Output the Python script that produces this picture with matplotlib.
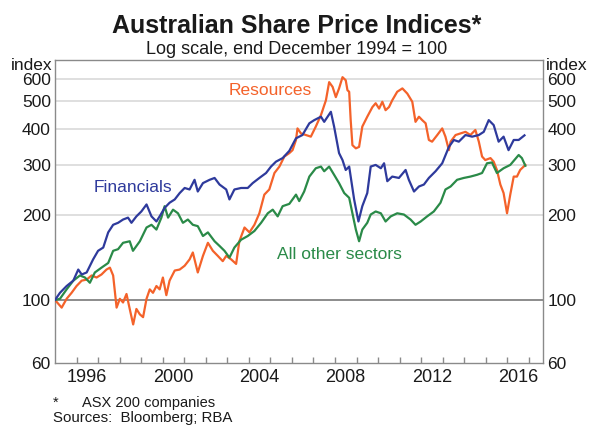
import numpy as np
import matplotlib.pyplot as plt
from matplotlib.ticker import FixedLocator, NullFormatter

plt.rcParams['font.family'] = ['Liberation Sans', 'DejaVu Sans']

# values (year, index level)
fin_year = [1995.0, 1995.23, 1995.54, 1995.85, 1996.08, 1996.24, 1996.47, 1996.77, 1997.0, 1997.24,
            1997.47, 1997.7, 1997.93, 1998.16, 1998.39, 1998.55, 1998.78, 1999.01, 1999.25, 1999.48,
            1999.71, 1999.86, 2000.09, 2000.32, 2000.56, 2000.79, 2001.02, 2001.25, 2001.48, 2001.63,
            2001.87, 2002.18, 2002.41, 2002.64, 2002.95, 2003.1, 2003.33, 2003.64, 2003.95, 2004.18,
            2004.49, 2004.8, 2005.03, 2005.26, 2005.57, 2005.88, 2006.19, 2006.49, 2006.81, 2007.04,
            2007.35, 2007.5, 2007.81, 2007.96, 2008.19, 2008.35, 2008.5, 2008.66, 2008.89, 2009.09,
            2009.27, 2009.5, 2009.66, 2009.89, 2010.13, 2010.28, 2010.43, 2010.66, 2010.97, 2011.28,
            2011.43, 2011.67, 2011.9, 2012.13, 2012.36, 2012.67, 2012.98, 2013.29, 2013.52, 2013.75,
            2014.06, 2014.37, 2014.68, 2014.91, 2015.14, 2015.37, 2015.6, 2015.83, 2016.06, 2016.3,
            2016.53, 2016.8]
fin_val = [100, 106, 112, 117, 128, 123, 125, 139, 149, 153,
           173, 184, 187, 192, 195, 187, 197, 205, 217, 197,
           189, 197, 211, 220, 226, 238, 248, 245, 265, 241,
           258, 265, 269, 255, 245, 226, 245, 248, 248, 258,
           269, 280, 295, 307, 316, 335, 371, 381, 419, 430,
           442, 424, 460, 408, 329, 311, 287, 295, 226, 189,
           214, 238, 295, 299, 291, 303, 262, 272, 269, 287,
           265, 241, 251, 255, 269, 284, 303, 346, 366, 361,
           381, 376, 381, 391, 430, 413, 361, 376, 337, 366,
           366, 380]

oth_year = [1995.0, 1995.23, 1995.54, 1995.85, 1996.16, 1996.39, 1996.62, 1996.85, 1997.16, 1997.47,
            1997.7, 1997.93, 1998.16, 1998.47, 1998.62, 1998.94, 1999.25, 1999.48, 1999.71, 1999.94,
            2000.09, 2000.25, 2000.48, 2000.71, 2000.94, 2001.17, 2001.4, 2001.63, 2001.87, 2002.1,
            2002.41, 2002.64, 2002.87, 2003.1, 2003.33, 2003.64, 2003.95, 2004.26, 2004.57, 2004.88,
            2005.11, 2005.34, 2005.57, 2005.88, 2006.19, 2006.34, 2006.57, 2006.81, 2007.11, 2007.35,
            2007.5, 2007.73, 2007.96, 2008.19, 2008.43, 2008.66, 2008.81, 2008.97, 2009.12, 2009.27,
            2009.5, 2009.66, 2009.89, 2010.13, 2010.35, 2010.59, 2010.89, 2011.2, 2011.51, 2011.74,
            2011.98, 2012.28, 2012.59, 2012.9, 2013.13, 2013.37, 2013.67, 2013.98, 2014.29, 2014.6,
            2014.83, 2015.06, 2015.29, 2015.52, 2015.83, 2016.14, 2016.53, 2016.68, 2016.84]
oth_val = [100, 101, 109, 117, 122, 120, 115, 125, 130, 135,
           149, 151, 159, 161, 149, 161, 180, 184, 177, 195,
           214, 195, 208, 202, 187, 192, 184, 182, 168, 173,
           161, 155, 149, 141, 153, 163, 168, 175, 187, 202,
           208, 197, 214, 218, 235, 223, 241, 272, 291, 295,
           284, 295, 276, 258, 238, 229, 202, 177, 161, 177,
           187, 200, 205, 202, 189, 197, 202, 200, 192, 184,
           189, 197, 205, 220, 245, 251, 265, 269, 272, 276,
           280, 303, 305, 280, 291, 299, 324, 316, 297]

res_year = [1995.0, 1995.31, 1995.54, 1995.77, 1996.0, 1996.24, 1996.47, 1996.7, 1996.93, 1997.16,
            1997.39, 1997.55, 1997.7, 1997.86, 1998.01, 1998.16, 1998.32, 1998.47, 1998.63, 1998.78,
            1998.94, 1999.09, 1999.25, 1999.4, 1999.55, 1999.71, 1999.86, 2000.01, 2000.17, 2000.32,
            2000.56, 2000.79, 2001.02, 2001.25, 2001.4, 2001.63, 2001.87, 2002.1, 2002.33, 2002.56,
            2002.79, 2002.95, 2003.18, 2003.41, 2003.56, 2003.8, 2004.03, 2004.26, 2004.49, 2004.72,
            2004.95, 2005.19, 2005.42, 2005.65, 2005.88, 2006.03, 2006.19, 2006.26, 2006.42, 2006.65,
            2006.88, 2007.11, 2007.35, 2007.58, 2007.73, 2007.89, 2008.04, 2008.19, 2008.35, 2008.5,
            2008.58, 2008.66, 2008.73, 2008.81, 2008.97, 2009.12, 2009.27, 2009.5, 2009.74, 2009.89,
            2010.05, 2010.2, 2010.35, 2010.51, 2010.66, 2010.89, 2011.13, 2011.36, 2011.59, 2011.74,
            2011.9, 2012.05, 2012.21, 2012.36, 2012.51, 2012.75, 2012.98, 2013.13, 2013.29, 2013.37,
            2013.6, 2013.83, 2014.06, 2014.29, 2014.52, 2014.68, 2014.83, 2014.98, 2015.22, 2015.37,
            2015.52, 2015.68, 2015.83, 2015.99, 2016.14, 2016.3, 2016.45, 2016.6, 2016.84]
res_val = [100, 94, 101, 106, 112, 117, 118, 122, 120, 123,
           128, 130, 122, 94, 101, 98, 105, 93, 82, 93,
           89, 87, 101, 109, 106, 112, 109, 120, 104, 117,
           127, 128, 132, 139, 147, 125, 143, 159, 149, 143,
           137, 143, 139, 134, 161, 180, 173, 184, 202, 235,
           245, 280, 295, 320, 329, 337, 366, 402, 386, 381,
           376, 408, 448, 505, 585, 563, 518, 556, 609, 594,
           548, 541, 430, 351, 342, 346, 408, 442, 478, 493,
           472, 499, 466, 478, 505, 541, 556, 533, 499, 424,
           442, 430, 419, 366, 361, 381, 402, 376, 337, 361,
           381, 386, 391, 381, 397, 361, 320, 311, 316, 307,
           287, 255, 238, 202, 235, 272, 272, 287, 299]

ytick_vals = [60, 100, 200, 300, 400, 500, 600]
year_labels = [1996, 2000, 2004, 2008, 2012, 2016]

blue = '#2e3a9c'
orange = '#f4622a'
green = '#2a8a48'

fig = plt.figure(figsize=(5.91, 4.28), dpi=100)
ax = fig.add_axes([55 / 591, 1 - 363 / 428, 488 / 591, 303 / 428])

ax.set_yscale('log')
ax.set_ylim(60, 700)
ax.set_xlim(1995.0, 2017.66)

for v in [200, 300, 400, 500, 600]:
    ax.axhline(v, color='#d9d9d9', lw=1.2, zorder=0)
ax.axhline(100, color='#6e6e6e', lw=1.1, zorder=1)

ax.plot(res_year, res_val, color=orange, lw=1.6, zorder=3)
ax.plot(oth_year, oth_val, color=green, lw=1.6, zorder=3)
ax.plot(fin_year, fin_val, color=blue, lw=1.6, zorder=4)

ax.text(1998.6, 248, 'Financials', color=blue, fontsize=12.5, ha='center', va='center')
ax.text(2005.0, 547, 'Resources', color=orange, fontsize=12.5, ha='center', va='center')
ax.text(2008.2, 145, 'All other sectors', color=green, fontsize=12.5, ha='center', va='center')

for s in ax.spines.values():
    s.set_color('#8a8a8a')
    s.set_linewidth(1.0)

# y ticks: labels both sides, no marks
ax.yaxis.set_major_locator(FixedLocator(ytick_vals))
ax.yaxis.set_minor_locator(FixedLocator([]))
ax.set_yticklabels([str(v) for v in ytick_vals])
ax.yaxis.set_minor_formatter(NullFormatter())
ax.tick_params(axis='y', which='both', length=0, labelsize=12.5, pad=3,
               left=True, right=True, labelleft=True, labelright=True, colors='#1a1a1a')

# x ticks: marks at each year, labels mid-year
ax.xaxis.set_major_locator(FixedLocator(np.arange(1996, 2018)))
ax.xaxis.set_major_formatter(NullFormatter())
ax.xaxis.set_minor_locator(FixedLocator([y + 0.5 for y in year_labels]))
ax.xaxis.set_minor_formatter(plt.FixedFormatter([str(y) for y in year_labels]))
ax.tick_params(axis='x', which='major', direction='in', length=4, width=1, color='#8a8a8a')
ax.tick_params(axis='x', which='minor', length=0, labelsize=13, pad=4, colors='#1a1a1a')

fig.text(52 / 591, 1 - 65 / 428, 'index', fontsize=12.5, ha='right', va='center', color='#1a1a1a')
fig.text(546 / 591, 1 - 65 / 428, 'index', fontsize=12.5, ha='left', va='center', color='#1a1a1a')

fig.text(0.5025, 1 - 26 / 428, 'Australian Share Price Indices*', fontsize=18, fontweight='bold',
         ha='center', va='center', color='#1a1a1a')
fig.text(0.5025, 1 - 49 / 428, 'Log scale, end December 1994 = 100', fontsize=13,
         ha='center', va='center', color='#1a1a1a')

fig.text(53 / 591, 1 - 403 / 428, '*', fontsize=10.5, ha='left', va='center', color='#1a1a1a')
fig.text(82 / 591, 1 - 403 / 428, 'ASX 200 companies', fontsize=10.5, ha='left', va='center', color='#1a1a1a')
fig.text(53 / 591, 1 - 418 / 428, 'Sources:  Bloomberg; RBA', fontsize=10.8, ha='left', va='center',
         color='#1a1a1a')

fig.savefig('out.png', dpi=100)
